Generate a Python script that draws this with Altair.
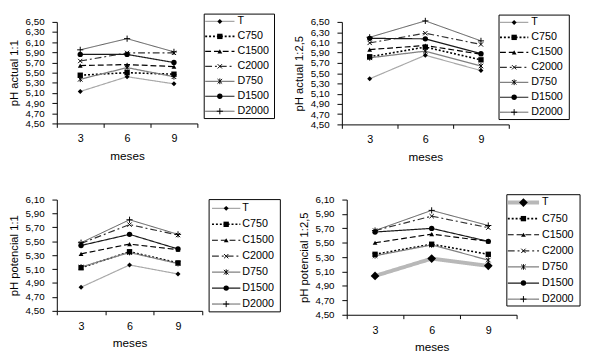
import altair as alt
import pandas as pd

SERIES = ["T", "C750", "C1500", "C2000", "D750", "D1500", "D2000"]
MESES = ["3", "6", "9"]

# pH actual 1:1
actual_11 = {
    "T": [5.13, 5.42, 5.28],
    "C750": [5.45, 5.50, 5.47],
    "C1500": [5.64, 5.66, 5.62],
    "C2000": [5.73, 5.89, 5.89],
    "D750": [5.37, 5.60, 5.42],
    "D1500": [5.86, 5.86, 5.70],
    "D2000": [5.95, 6.17, 5.91],
}
# pH actual 1:2,5
actual_125 = {
    "T": [5.39, 5.85, 5.55],
    "C750": [5.82, 6.01, 5.76],
    "C1500": [5.96, 6.04, 5.87],
    "C2000": [6.09, 6.28, 6.06],
    "D750": [5.80, 5.93, 5.64],
    "D1500": [6.18, 6.17, 5.88],
    "D2000": [6.20, 6.52, 6.13],
}
# pH potencial 1:1
potencial_11 = {
    "T": [4.84, 5.16, 5.03],
    "C750": [5.12, 5.35, 5.19],
    "C1500": [5.32, 5.46, 5.38],
    "C2000": [5.47, 5.74, 5.59],
    "D750": [5.13, 5.34, 5.18],
    "D1500": [5.44, 5.60, 5.39],
    "D2000": [5.48, 5.81, 5.60],
}
# pH potencial 1:2,5
potencial_125 = {
    "T": [5.04, 5.28, 5.18],
    "C750": [5.34, 5.48, 5.34],
    "C1500": [5.50, 5.62, 5.52],
    "C2000": [5.67, 5.87, 5.71],
    "D750": [5.32, 5.47, 5.26],
    "D1500": [5.65, 5.70, 5.52],
    "D2000": [5.67, 5.95, 5.74],
}

X_PATH = "M-0.8,-0.8L0.8,0.8M-0.8,0.8L0.8,-0.8"
AST_PATH = "M-0.8,-0.8L0.8,0.8M-0.8,0.8L0.8,-0.8M0,-1L0,1"
PLUS_PATH = "M-1,0L1,0M0,-1L0,1"

STYLE = {
    "T": dict(color="#a8a8a8", dash=[1, 0], width=1.2, shape="diamond", filled=True, size=26),
    "C750": dict(color="#000000", dash=[2, 2], width=1.6, shape="square", filled=True, size=30),
    "C1500": dict(color="#000000", dash=[6, 3], width=1.2, shape="triangle-up", filled=True, size=24),
    "C2000": dict(color="#333333", dash=[7, 3, 2, 3], width=1.2, shape=X_PATH, filled=False, size=30),
    "D750": dict(color="#808080", dash=[1, 0], width=1.3, shape=AST_PATH, filled=False, size=34),
    "D1500": dict(color="#1a1a1a", dash=[1, 0], width=1.2, shape="circle", filled=True, size=30),
    "D2000": dict(color="#404040", dash=[1, 0], width=0.9, shape=PLUS_PATH, filled=False, size=40),
}

FONT = "Liberation Sans"
LABEL_EXPR = "replace(format(datum.value, '.2f'), '.', ',')"


def style_for(s, t_override):
    st = dict(STYLE[s])
    if s == "T" and t_override:
        st.update(t_override)
    return st


def panel(vals, ytitle, ymax, W, H, leg, t_override=None):
    lx0, lx1, tx, ly0, ly1, bx0, bx1, by0, by1 = leg
    df = pd.DataFrame(
        [{"serie": s, "mes": m, "valor": v} for s in SERIES for m, v in zip(MESES, vals[s])]
    )
    n = int(round((ymax - 4.5) / 0.2))
    ticks = [round(4.5 + 0.2 * i, 2) for i in range(n + 1)]
    x_enc = alt.X(
        "mes:N",
        sort=MESES,
        scale=alt.Scale(type="band", domain=MESES, paddingInner=0, paddingOuter=0),
        axis=alt.Axis(
            title="meses", tickBand="extent", labelAngle=0, labelFontSize=11,
            titleFontSize=12, titleFontWeight="normal", tickSize=4, labelPadding=6,
            titlePadding=7, domainColor="black", tickColor="black", labelColor="black",
            titleColor="black", grid=False, labelFont=FONT, titleFont=FONT,
        ),
    )
    y_enc = alt.Y(
        "valor:Q",
        scale=alt.Scale(domain=[4.5, ymax], nice=False, zero=False),
        axis=alt.Axis(
            title=ytitle, values=ticks, labelExpr=LABEL_EXPR, labelOverlap=False,
            labelFlush=False, labelFontSize=10, titleFontSize=11.5, titleFontWeight="normal",
            tickSize=5, labelPadding=8, titlePadding=6, grid=False, domainColor="black",
            tickColor="black", labelColor="black", titleColor="black",
            labelFont=FONT, titleFont=FONT,
        ),
    )
    data_layers = []
    point_layers = []
    for s in SERIES:
        st = style_for(s, t_override)
        base = alt.Chart(df).transform_filter(alt.datum.serie == s).encode(x=x_enc, y=y_enc)
        data_layers.append(
            base.mark_line(color=st["color"], strokeDash=st["dash"], strokeWidth=st["width"])
        )
        if st["filled"]:
            pm = base.mark_point(shape=st["shape"], filled=True, color="black", size=st["size"], opacity=1)
        else:
            pm = base.mark_point(shape=st["shape"], filled=False, color="black", size=st["size"],
                                 strokeWidth=1, opacity=1)
        point_layers.append(pm)
    data = alt.layer(*data_layers, *point_layers)

    # legend scales: x units 0..2 span the sample line, y units 0..6 span the rows
    lxs = alt.Scale(domain=[0, 2], range=[lx0, lx1], nice=False, zero=False)
    lys = alt.Scale(domain=[0, 6], range=[ly0, ly1], nice=False, zero=False)

    def ux(px):
        return (px - lx0) / (lx1 - lx0) * 2

    def uy(py):
        return (py - ly0) / (ly1 - ly0) * 6

    bdf = pd.DataFrame({
        "lx": [ux(bx0), ux(bx1), ux(bx1), ux(bx0), ux(bx0)],
        "fila": [uy(by0), uy(by0), uy(by1), uy(by1), uy(by0)],
        "o": [0, 1, 2, 3, 4],
    })
    box = alt.Chart(bdf).mark_line(color="black", strokeWidth=1).encode(
        x=alt.X("lx:Q", scale=lxs, axis=None),
        y=alt.Y("fila:Q", scale=lys, axis=None),
        order="o:Q",
    )
    leg_layers = [box]
    leg_pts = []
    for i, s in enumerate(SERIES):
        st = style_for(s, t_override)
        ldf = pd.DataFrame({"serie": [s, s], "fila": [i, i], "lx": [0, 2]})
        leg_layers.append(
            alt.Chart(ldf).mark_line(color=st["color"], strokeDash=st["dash"], strokeWidth=st["width"]).encode(
                x=alt.X("lx:Q", scale=lxs, axis=None), y=alt.Y("fila:Q", scale=lys, axis=None)
            )
        )
        pdf = pd.DataFrame({"serie": [s], "fila": [i], "lx": [1]})
        enc = dict(x=alt.X("lx:Q", scale=lxs, axis=None), y=alt.Y("fila:Q", scale=lys, axis=None))
        if st["filled"]:
            leg_pts.append(alt.Chart(pdf).mark_point(shape=st["shape"], filled=True, color="black",
                                                     size=st["size"], opacity=1).encode(**enc))
        else:
            leg_pts.append(alt.Chart(pdf).mark_point(shape=st["shape"], filled=False, color="black",
                                                     size=st["size"], strokeWidth=1, opacity=1).encode(**enc))
    tdf = pd.DataFrame({"serie": SERIES, "fila": list(range(7)), "lx": [2] * 7})
    txt = alt.Chart(tdf).mark_text(
        align="left", baseline="middle", dx=tx - lx1, fontSize=11, font=FONT, color="black"
    ).encode(
        x=alt.X("lx:Q", scale=lxs, axis=None),
        y=alt.Y("fila:Q", scale=lys, axis=None),
        text="serie:N",
    )
    legend = alt.layer(*leg_layers, *leg_pts, txt)
    return alt.layer(data, legend).resolve_scale(x="independent", y="independent").properties(
        width=W, height=H
    )


# legend geometry: line x0, line x1, text x, first row y, last row y, box x0, x1, y0, y1
p1 = panel(actual_11, "pH actual 1:1", 6.5, 144, 104,
           (152, 182, 185, -0.5, 91.5, 151, 223, -8, 99))
p2 = panel(actual_125, "pH actual 1:2,5", 6.5, 171, 105,
           (162, 191, 194, 0.5, 92.5, 161, 233, -7, 100))
p3 = panel(potencial_11, "pH potencial 1:1", 6.1, 149, 114,
           (159, 188, 190, 9, 107, 156, 229, 0, 115))
p4 = panel(potencial_125, "pH potencial 1:2,5", 6.1, 174, 118,
           (165, 197, 200, 3, 102, 164, 239, -5, 109),
           t_override=dict(color="#b8b8b8", width=4, size=80))

row1 = alt.hconcat(p1, p2, spacing=17)
row2 = alt.hconcat(p3, p4, spacing=15)
chart = alt.vconcat(row1, row2, spacing=30).properties(padding=0).configure(
    font=FONT, view=alt.ViewConfig(stroke=None)
)
chart.save("out.html", embed_options={"renderer": "svg", "actions": False})
